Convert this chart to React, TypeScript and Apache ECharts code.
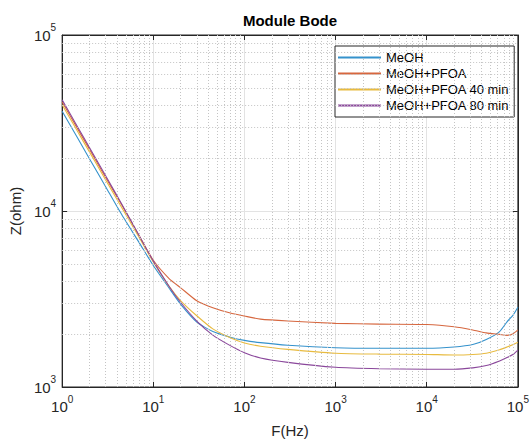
import React, { useEffect, useRef } from "react";
import * as echarts from "echarts";

const FREQ = [1, 1.5, 2, 3, 4.5, 7, 10, 15, 20, 30, 45, 70, 100, 150, 300, 1000, 3000, 10000, 20000, 32000, 45000, 63000, 76000, 89000, 100000];
const MEOH = [36900, 25650, 19770, 13740, 9550, 6610, 4900, 3630, 2950, 2340, 2065, 1919, 1841, 1786, 1726, 1671, 1660, 1660, 1687, 1742, 1862, 2065, 2344, 2570, 2838];
const PFOA = [41600, 28900, 22390, 15490, 10840, 7240, 5250, 4120, 3660, 3090, 2820, 2630, 2530, 2430, 2370, 2300, 2275, 2265, 2200, 2110, 2030, 1990, 1965, 2010, 2110];
const PFOA40 = [40200, 27900, 21600, 15000, 10470, 7080, 5130, 3715, 3090, 2540, 2140, 1905, 1778, 1706, 1637, 1556, 1538, 1531, 1521, 1531, 1556, 1629, 1687, 1742, 1795];
const PFOA80 = [42800, 29650, 22900, 15850, 10960, 7240, 5190, 3715, 3020, 2370, 1972, 1718, 1567, 1462, 1380, 1294, 1270, 1262, 1262, 1285, 1324, 1406, 1469, 1535, 1622];

const SERIES_NAMES = ["MeOH", "MeOH+PFOA", "MeOH+PFOA 40 min", "MeOH+PFOA 80 min"];
const SERIES_VALUES = [MEOH, PFOA, PFOA40, PFOA80];
const COLORS = ["#3592cc", "#d6673f", "#e8bb40", "#8a479b"];

const X_DECADES = [1, 10, 100, 1000, 10000];
const Y_DECADES = [1000, 10000];
const MINOR_MULT = [2, 3, 4, 5, 6, 7, 8, 9];

const TITLE = "Module Bode";
const X_NAME = "F(Hz)";
const Y_NAME = "Z(ohm)";

const FONT = "'Liberation Sans', Arial, Helvetica, sans-serif";
const AXIS_COLOR = "#262626";

function supLabel(v: number) {
  const e = Math.round(Math.log10(v));
  return `{b|10}{s|${e}}`;
}

const rich = {
  b: { fontSize: 15, lineHeight: 25, color: AXIS_COLOR, fontFamily: FONT },
  s: { fontSize: 10, lineHeight: 13, verticalAlign: "top", color: AXIS_COLOR, fontFamily: FONT },
};

export default function App() {
  const ref = useRef<HTMLDivElement>(null);
  useEffect(() => {
    if (!ref.current) return;
    const chart = echarts.init(ref.current, undefined, { renderer: "svg" });

    const minorX: any[] = [];
    X_DECADES.forEach((d) => MINOR_MULT.forEach((m) => minorX.push({ xAxis: d * m })));
    const minorY: any[] = [];
    Y_DECADES.forEach((d) => MINOR_MULT.forEach((m) => minorY.push({ yAxis: d * m })));

    const baseAxis = {
      type: "log" as const,
      logBase: 10,
      axisLine: { show: true, lineStyle: { color: AXIS_COLOR, width: 1 } },
      axisTick: { show: true, inside: true, length: 5, lineStyle: { color: AXIS_COLOR } },
    };

    const option: any = {
      animation: false,
      backgroundColor: "#ffffff",
      textStyle: { fontFamily: FONT },
      grid: { left: 61, top: 35, width: 459, height: 362, show: true, borderColor: AXIS_COLOR, borderWidth: 1, backgroundColor: "#fff" },
      graphic: [
        {
          type: "text",
          x: 290,
          y: 13,
          style: { text: TITLE, fontSize: 15, fontWeight: "bold", fill: "#000", fontFamily: FONT, align: "center", verticalAlign: "top" },
        },
      ],
      xAxis: [
        {
          ...baseAxis,
          min: 1,
          max: 100000,
          position: "bottom",
          name: X_NAME,
          nameLocation: "middle",
          nameGap: 36,
          nameTextStyle: { fontSize: 15, color: AXIS_COLOR, fontFamily: FONT },
          axisLabel: { formatter: supLabel, rich, margin: 7, showMinLabel: true, showMaxLabel: true },
          splitLine: { show: true, lineStyle: { color: "#e3e3e3", width: 1 } },
        },
        {
          ...baseAxis,
          min: 1,
          max: 100000,
          position: "top",
          axisLabel: { show: false },
          splitLine: { show: false },
        },
      ],
      yAxis: [
        {
          ...baseAxis,
          min: 1000,
          max: 100000,
          position: "left",
          name: Y_NAME,
          nameLocation: "middle",
          nameGap: 26,
          nameRotate: 90,
          nameTextStyle: { fontSize: 15, color: AXIS_COLOR, fontFamily: FONT },
          axisLabel: { formatter: supLabel, rich, margin: 6, showMinLabel: true, showMaxLabel: true },
          splitLine: { show: true, lineStyle: { color: "#e3e3e3", width: 1 } },
        },
        {
          ...baseAxis,
          min: 1000,
          max: 100000,
          position: "right",
          axisLabel: { show: false },
          splitLine: { show: false },
        },
      ],
      legend: {
        data: SERIES_NAMES,
        orient: "vertical",
        left: 335,
        top: 46,
        itemWidth: 43,
        itemHeight: 14,
        itemGap: 3,
        padding: [5, 5, 5, 2],
        backgroundColor: "#ffffff",
        borderColor: AXIS_COLOR,
        borderWidth: 1,
        borderRadius: 0,
        itemStyle: { opacity: 0 },
        textStyle: { fontSize: 13, color: "#000", fontFamily: FONT },
      },
      series: [
        {
          type: "line",
          name: "grid-minor",
          data: [[1, 1000]],
          showSymbol: false,
          symbol: "none",
          silent: true,
          lineStyle: { width: 0 },
          z: 1,
          markLine: {
            silent: true,
            symbol: ["none", "none"],
            label: { show: false },
            lineStyle: { type: [1, 2], color: "#c4c4c4", width: 1 },
            emphasis: { disabled: true },
            data: [...minorX, ...minorY],
          },
        },
        ...SERIES_NAMES.map((name, i) => ({
          type: "line",
          name,
          data: FREQ.map((f, j) => [f, SERIES_VALUES[i][j]]),
          showSymbol: false,
          symbol: "none",
          smooth: 0.2,
          lineStyle: { color: COLORS[i], width: 1.1 },
          itemStyle: { color: COLORS[i] },
          z: 3,
        })),
      ],
    };

    chart.setOption(option);
    return () => chart.dispose();
  }, []);

  return <div ref={ref} style={{ position: "fixed", left: 0, top: 0, width: 532, height: 443 }} />;
}
